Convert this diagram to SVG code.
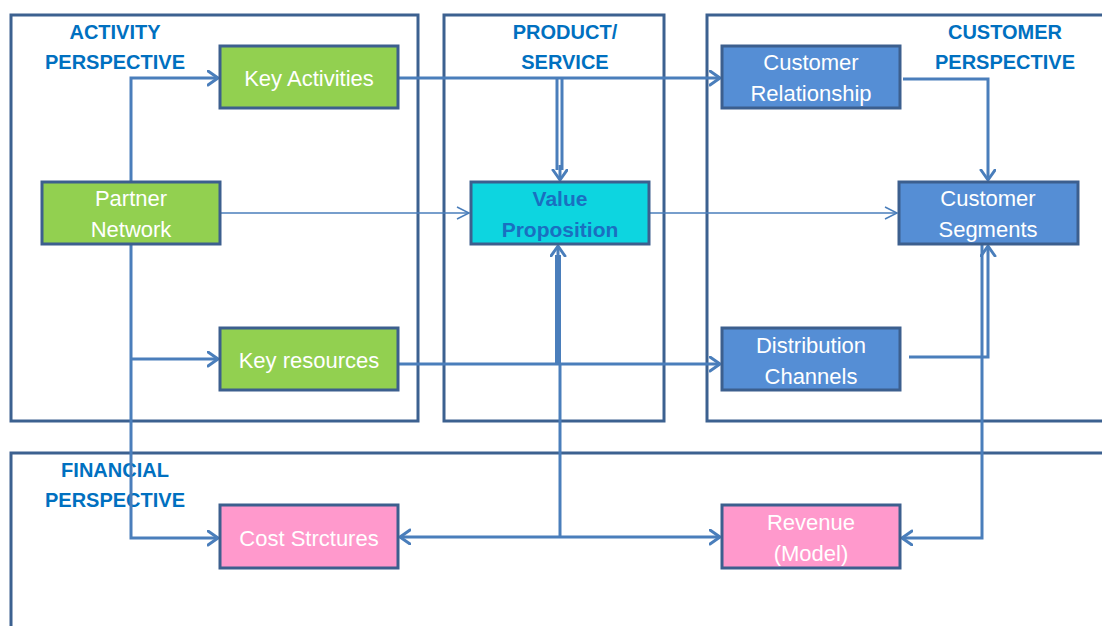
<svg xmlns="http://www.w3.org/2000/svg" width="1102" height="626" viewBox="0 0 1102 626">
  <defs>
    <marker id="arr" markerUnits="userSpaceOnUse" markerWidth="16" markerHeight="18" refX="11" refY="8" orient="auto">
      <path d="M1,1 L11,8 L1,15" fill="none" stroke="#4A7EBB" stroke-width="3" stroke-linecap="round" stroke-linejoin="round"/>
    </marker>
    <marker id="arrThin" markerUnits="userSpaceOnUse" markerWidth="16" markerHeight="16" refX="13" refY="7" orient="auto">
      <path d="M1,1 L13,7 L1,13" fill="none" stroke="#4A7EBB" stroke-width="1.5"/>
    </marker>
    <style>
      .frame { fill: none; stroke: #3C6190; stroke-width: 3; }
      .title { font-family: "Liberation Sans", Arial, sans-serif; font-weight: bold; font-size: 20px; fill: #0070C0; text-anchor: middle; }
      .node rect { stroke: #3C5F8E; stroke-width: 3; }
      .green rect { fill: #92D050; }
      .blue rect { fill: #558ED5; }
      .pink rect { fill: #FF99CC; }
      .cyan rect { fill: #0DD5E0; }
      .node text { font-family: "Liberation Sans", Arial, sans-serif; font-size: 22px; fill: #FFFFFF; text-anchor: middle; }
      .cyan text { fill: #1A6FC0; font-weight: bold; font-size: 21px; }
      .c { fill: none; stroke: #4A7EBB; stroke-width: 3; }
      .thin { fill: none; stroke: #4A7EBB; stroke-width: 1.5; }
    </style>
  </defs>
  <rect width="1102" height="626" fill="#FFFFFF"/>

  <!-- perspective frames -->
  <g id="frames">
    <rect class="frame" x="11" y="15" width="407" height="406"/>
    <rect class="frame" x="444" y="15" width="220" height="406"/>
    <polyline class="frame" points="1104,15 707,15 707,421 1104,421"/>
    <polyline class="frame" points="11,628 11,453 1104,453"/>
  </g>

  <!-- perspective titles -->
  <g id="titles">
    <text class="title" x="115" y="39">ACTIVITY</text>
    <text class="title" x="115" y="69">PERSPECTIVE</text>
    <text class="title" x="565" y="39">PRODUCT/</text>
    <text class="title" x="565" y="69">SERVICE</text>
    <text class="title" x="1005" y="39">CUSTOMER</text>
    <text class="title" x="1005" y="69">PERSPECTIVE</text>
    <text class="title" x="115" y="477">FINANCIAL</text>
    <text class="title" x="115" y="507">PERSPECTIVE</text>
  </g>

  <!-- connectors -->
  <g id="connectors">
    <!-- Partner Network up to Key Activities -->
    <polyline class="c" points="131,182 131,78 218,78" marker-end="url(#arr)"/>
    <!-- Key Activities to Customer Relationship -->
    <line class="c" x1="398" y1="78" x2="720" y2="78" marker-end="url(#arr)"/>
    <!-- Key Activities line down to Value Proposition (double) -->
    <line class="c" x1="557" y1="78" x2="557" y2="170"/>
    <line class="c" x1="562" y1="78" x2="562" y2="170"/>
    <line class="c" x1="560" y1="165" x2="560" y2="180" marker-end="url(#arr)"/>
    <!-- Partner Network to Value Proposition -->
    <line class="thin" x1="220" y1="213" x2="469" y2="213" marker-end="url(#arrThin)"/>
    <!-- Value Proposition to Customer Segments -->
    <line class="thin" x1="649" y1="213" x2="897" y2="213" marker-end="url(#arrThin)"/>
    <!-- Customer Relationship to Customer Segments -->
    <polyline class="c" points="903,79 988,79 988,180" marker-end="url(#arr)"/>
    <!-- Partner Network down to Cost Strctures, branch to Key resources -->
    <polyline class="c" points="131,244 131,538 218,538" marker-end="url(#arr)"/>
    <line class="c" x1="131" y1="359" x2="218" y2="359" marker-end="url(#arr)"/>
    <!-- Key resources to Distribution Channels -->
    <line class="c" x1="392" y1="364" x2="720" y2="364" marker-end="url(#arr)"/>
    <!-- up into Value Proposition -->
    <line x1="558" y1="364" x2="558" y2="255" stroke="#4A7EBB" stroke-width="6"/>
    <line class="c" x1="558" y1="260" x2="558" y2="246" marker-end="url(#arr)"/>
    <!-- Value Proposition down to the financial row -->
    <line class="c" x1="560" y1="364" x2="560" y2="537"/>
    <line class="c" x1="560" y1="537" x2="400" y2="537" marker-end="url(#arr)"/>
    <line class="c" x1="560" y1="537" x2="720" y2="537" marker-end="url(#arr)"/>
    <!-- Distribution Channels up to Customer Segments -->
    <polyline class="c" points="909,357 988,357 988,246" marker-end="url(#arr)"/>
    <!-- Customer Segments down to Revenue -->
    <polyline class="c" points="982,244 982,538 902,538" marker-end="url(#arr)"/>
  </g>

  <!-- nodes -->
  <g id="key-activities" class="node green">
    <rect x="220" y="46" width="178" height="62"/>
    <text x="309" y="86">Key Activities</text>
  </g>
  <g id="partner-network" class="node green">
    <rect x="42" y="182" width="178" height="62"/>
    <text x="131" y="206">Partner</text>
    <text x="131" y="237">Network</text>
  </g>
  <g id="key-resources" class="node green">
    <rect x="220" y="328" width="178" height="62"/>
    <text x="309" y="368">Key resources</text>
  </g>
  <g id="value-proposition" class="node cyan">
    <rect x="471" y="182" width="178" height="62"/>
    <text x="560" y="206">Value</text>
    <text x="560" y="237">Proposition</text>
  </g>
  <g id="customer-relationship" class="node blue">
    <rect x="722" y="46" width="178" height="62"/>
    <text x="811" y="70">Customer</text>
    <text x="811" y="101">Relationship</text>
  </g>
  <g id="customer-segments" class="node blue">
    <rect x="899" y="182" width="179" height="62"/>
    <text x="988" y="206">Customer</text>
    <text x="988" y="237">Segments</text>
  </g>
  <g id="distribution-channels" class="node blue">
    <rect x="722" y="328" width="178" height="62"/>
    <text x="811" y="353">Distribution</text>
    <text x="811" y="384">Channels</text>
  </g>
  <g id="cost-structures" class="node pink">
    <rect x="220" y="505" width="178" height="63"/>
    <text x="309" y="546">Cost Strctures</text>
  </g>
  <g id="revenue-model" class="node pink">
    <rect x="722" y="505" width="178" height="63"/>
    <text x="811" y="530">Revenue</text>
    <text x="811" y="561">(Model)</text>
  </g>
</svg>
